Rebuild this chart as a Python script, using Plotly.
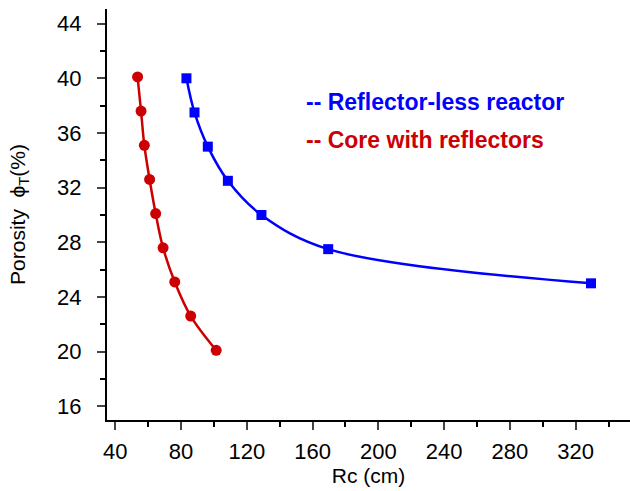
import plotly.graph_objects as go

# Core with reflectors (red circles)
red_rc = [53.6, 55.7, 57.7, 60.9, 64.6, 69.1, 76.2, 85.9, 101.4]
red_phi = [40.1, 37.6, 35.1, 32.6, 30.1, 27.6, 25.1, 22.6, 20.1]

# Reflector-less reactor (blue squares)
blue_rc = [83.3, 88.2, 96.3, 108.5, 128.9, 169.5, 329.3]
blue_phi = [40.0, 37.5, 35.0, 32.5, 30.0, 27.5, 25.0]

RED = "rgb(204,0,0)"
BLUE = "rgb(0,0,255)"
FONT = "Liberation Sans, Arial, sans-serif"

fig = go.Figure()
fig.add_trace(go.Scatter(x=blue_rc, y=blue_phi, mode="lines+markers",
                         line=dict(color=BLUE, width=2.5, shape="spline", smoothing=1.0),
                         marker=dict(symbol="square", size=10, color=BLUE),
                         showlegend=False))
fig.add_trace(go.Scatter(x=red_rc, y=red_phi, mode="lines+markers",
                         line=dict(color=RED, width=2.5, shape="spline", smoothing=1.0),
                         marker=dict(symbol="circle", size=11, color=RED),
                         showlegend=False))

fig.add_annotation(x=0.376, y=0.774, xref="paper", yref="paper",
                   text="<b>-- Reflector-less reactor</b>", showarrow=False,
                   xanchor="left", yanchor="middle",
                   font=dict(family=FONT, size=23, color=BLUE))
fig.add_annotation(x=0.376, y=0.682, xref="paper", yref="paper",
                   text="<b>-- Core with reflectors</b>", showarrow=False,
                   xanchor="left", yanchor="middle",
                   font=dict(family=FONT, size=23, color=RED))

fig.update_layout(
    width=630, height=491,
    margin=dict(l=107, r=0, t=9, b=71),
    paper_bgcolor="white", plot_bgcolor="white",
    font=dict(family=FONT, size=22, color="black"),
    xaxis=dict(range=[35, 353], tick0=0, dtick=40, ticks="outside", ticklen=8, tickwidth=2,
               showline=True, linecolor="black", linewidth=2, showgrid=False, zeroline=False,
               minor=dict(dtick=20, tick0=0, ticks="outside", ticklen=5, tickwidth=2, tickcolor="black"),
               ticklabelstandoff=3,
               title=dict(text="Rc (cm)", standoff=4, font=dict(size=21)),
               tickfont=dict(size=22)),
    yaxis=dict(range=[15, 45.07], tick0=0, dtick=4, ticks="outside", ticklen=8, tickwidth=2,
               showline=True, linecolor="black", linewidth=2, showgrid=False, zeroline=False,
               minor=dict(dtick=2, tick0=0, ticks="outside", ticklen=5, tickwidth=2, tickcolor="black"),
               ticklabelstandoff=11,
               title=dict(text="Porosity  ϕ<sub>T</sub>(%)", standoff=26, font=dict(size=21)),
               tickfont=dict(size=22)),
)

fig.write_html("out.html")
